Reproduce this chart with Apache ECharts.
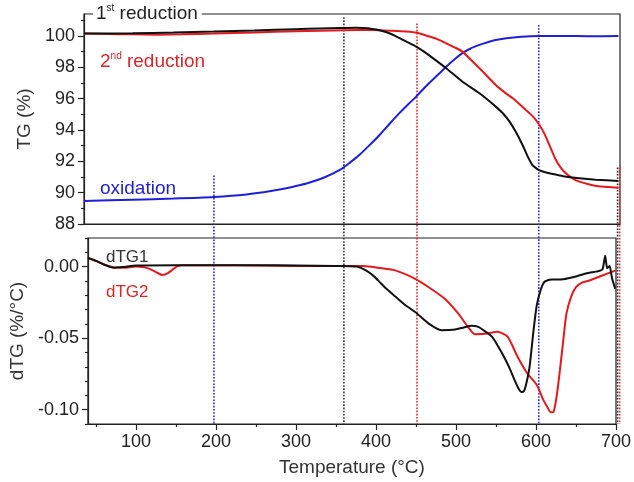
<!DOCTYPE html>
<html><head><meta charset="utf-8">
<script src="https://cdn.jsdelivr.net/npm/echarts@6/dist/echarts.min.js"></script>
<style>html,body{margin:0;padding:0;background:#fff}#c{width:634px;height:482px}</style>
</head><body><div id="c"></div>
<script>
// ---------- data ----------
const tg1Temps = [40,100,150,200,250,300,330,355,375,395,405,416,426,437,449,460,470,486,506,527,547,556,564,572,580,586,592,597,601,608,617,630,650,670,698];
const tg1Values = [100.15,100.17,100.22,100.28,100.35,100.43,100.48,100.5,100.52,100.45,100.35,100.17,99.93,99.64,99.32,98.95,98.57,97.94,97.08,96.34,95.49,95.05,94.53,93.85,93.04,92.35,91.77,91.55,91.42,91.3,91.19,91.05,90.92,90.83,90.75];

const tg2Temps = [40,70,100,130,160,200,250,300,330,360,395,420,437,450,461,475,486,496,506,516,527,537,547,558,568,584,593,601,607,613,620,627,634,642,650,660,671,685,698];
const tg2Values = [100.15,100.12,100.1,100.08,100.1,100.15,100.22,100.3,100.33,100.36,100.38,100.33,100.28,100.2,100.03,99.8,99.53,99.28,99.0,98.5,97.94,97.4,96.87,96.4,96.02,95.28,94.85,94.3,93.75,93.05,92.2,91.6,91.2,90.9,90.7,90.55,90.43,90.36,90.32];

const oxTemps = [40,100,150,200,240,270,295,315,335,355,367,379,391,404,416,428,439,449,459,469,478,486,496,506,516,527,537,547,560,572,585,600,630,660,698];
const oxValues = [89.47,89.55,89.62,89.72,89.88,90.1,90.35,90.6,90.95,91.45,91.9,92.4,93.0,93.68,94.38,95.06,95.63,96.13,96.68,97.19,97.63,98.04,98.5,98.9,99.2,99.43,99.6,99.74,99.85,99.92,99.97,100.0,100.0,99.98,100.0];

const dtg1Temps = [40,50,60,72,85,100,150,200,250,300,350,376,388,398,405,412,425,437,449,466,482,499,510,519,528,537,545,553,560,567,573,578,582,585,588,592,597,601,606,610,614,620,634,650,665,675,683,686.5,689,692,695,699];
const dtg1Values = [0.006,0.004,0.0015,-0.0008,-0.0002,0.0007,0.001,0.001,0.001,0.0008,0.0005,0,-0.0028,-0.007,-0.011,-0.015,-0.0213,-0.027,-0.0317,-0.0398,-0.0444,-0.044,-0.0425,-0.0414,-0.0421,-0.0455,-0.049,-0.056,-0.063,-0.071,-0.079,-0.085,-0.0877,-0.087,-0.0815,-0.07,-0.0444,-0.027,-0.016,-0.011,-0.0097,-0.009,-0.0088,-0.0069,-0.0045,-0.0035,-0.0021,0.0076,-0.0012,0.0005,-0.008,-0.0155];

const dtg2Temps = [40,50,60,72,85,100,110,117,125,133,140,146,152,158,200,250,300,350,384,405,425,449,466,486,503,515,523.5,536,552,564.5,577,589,601,609,614,618.5,622,626,630,634,638,644,650,658,667,683,699];
const dtg2Values = [0.006,0.004,0.0015,-0.0005,-0.0008,0,-0.0005,-0.0016,-0.0038,-0.0058,-0.0045,-0.002,0.0003,0.001,0.001,0.0008,0.0005,0.0005,0.0004,-0.001,-0.0028,-0.0085,-0.0144,-0.0225,-0.0329,-0.0421,-0.0472,-0.047,-0.0456,-0.049,-0.063,-0.0745,-0.0826,-0.093,-0.098,-0.1018,-0.1015,-0.09,-0.072,-0.052,-0.033,-0.021,-0.0144,-0.011,-0.0097,-0.0062,-0.0028];

// vertical dotted marker lines: temperature, TG value where the line starts
const markerTemps = [200, 360, 450, 600, 697, 699.5];
const markerTops = [91.1, 101.2, 100.8, 100.7, 91.6, 91.6];
const markerColors = ['#2424d8', '#333333', '#e0282a', '#2424d8', '#333333', '#e0282a'];

// tick values
const xMajorTicks = [100,200,300,400,500,600,700];
const xMinorTicks = [50,150,250,350,450,550,650];
const tgMajorTicks = [88,90,92,94,96,98,100];
const tgMinorTicks = [89,91,93,95,97,99,101];
const dtgMajorTicks = [-0.1,-0.05,0];
const dtgMinorTicks = [-0.11,-0.09,-0.08,-0.07,-0.06,-0.04,-0.03,-0.02,-0.01,0.01,0.02];

// ---------- layout ----------
const FONT = "'Liberation Sans', Arial, sans-serif";
const L = 84, R = 14, TOP1 = 14, H1 = 210, TOP2 = 238, H2 = 186;
const X_MIN = 40, X_MAX = 700;
const TG_MIN = 88, TG_MAX = 101.4;
const DTG_MIN = -0.11, DTG_MAX = 0.02;
const OVER_MIN = TG_MAX - (TOP2 + H2 - TOP1) / H1 * (TG_MAX - TG_MIN);

const zip = (a, b) => a.map((v, i) => [v, b[i]]);
const AX = '#222';

function yAxisPair(grid, min, max, majors, minors, name, gap, fmt) {
  return [{
    gridIndex: grid, type: 'value', min: min, max: max, position: 'left',
    name: name, nameLocation: 'middle', nameGap: gap, nameRotate: 90,
    nameTextStyle: {fontSize: 19, color: '#333', fontFamily: FONT},
    axisLine: {show: true, lineStyle: {color: AX, width: 1.2}},
    axisTick: {show: true, length: 6, customValues: majors, lineStyle: {color: AX, width: 1.2}},
    axisLabel: {show: true, fontSize: 18, color: '#222', fontFamily: FONT, margin: 9, customValues: majors, formatter: fmt},
    splitLine: {show: false}
  }, {
    gridIndex: grid, type: 'value', min: min, max: max, position: 'left',
    axisLine: {show: false},
    axisTick: {show: true, length: 3, customValues: minors, lineStyle: {color: AX, width: 1.2}},
    axisLabel: {show: false},
    splitLine: {show: false}
  }];
}

const chart = echarts.init(document.getElementById('c'));

const markerSeries = markerTemps.map((t, i) => ({
  type: 'line', xAxisIndex: 4, yAxisIndex: 4, silent: true, z: 1,
  symbol: 'none', data: [[t, markerTops[i]], [t, OVER_MIN]],
  lineStyle: {color: markerColors[i], width: 1.6, type: [1.6, 1.6]}
}));

const curve = (temps, vals, color, xi, yi) => ({
  type: 'line', xAxisIndex: xi, yAxisIndex: yi, data: zip(temps, vals),
  showSymbol: false, symbol: 'none', smooth: 0.2, z: 3,
  lineStyle: {color: color, width: 2}
});

const RED = '#e3191e', BLUE = '#1f1fd6', BLACK = '#111111';
const richStyle = (color) => ({
  n: {fontSize: 19, color: color, fontFamily: FONT, fontWeight: 'normal', lineHeight: 21},
  s: {fontSize: 10, color: color, fontFamily: FONT, fontWeight: 'normal', verticalAlign: 'top', lineHeight: 21, padding: [0, 0, 9, 0]}
});

chart.setOption({
  animation: false,
  backgroundColor: '#fff',
  textStyle: {fontFamily: FONT},
  grid: [
    {left: L, right: R, top: TOP1, height: H1, show: true, borderColor: AX, borderWidth: 1.2, backgroundColor: 'transparent'},
    {left: L, right: R, top: TOP2, height: H2, show: true, borderColor: AX, borderWidth: 1.2, backgroundColor: 'transparent'},
    {left: L, right: R, top: TOP1, height: TOP2 + H2 - TOP1, show: false}
  ],
  title: [
    {text: '{n|1}{s|st}{n| reduction}', left: 93, top: 3, backgroundColor: '#fff', padding: [0, 4, 0, 3],
     textStyle: {fontWeight: 'normal', rich: richStyle('#222')}},
    {text: '{n|2}{s|nd}{n| reduction}', left: 95, top: 46,
     textStyle: {fontWeight: 'normal', rich: richStyle('#d8262b')}},
    {text: 'oxidation', left: 95, top: 174, textStyle: {fontSize: 19, color: '#1f1fc8', fontFamily: FONT, fontWeight: 'normal'}},
    {text: 'dTG1', left: 101, top: 244, textStyle: {fontSize: 17, color: '#333', fontFamily: FONT, fontWeight: 'normal'}},
    {text: 'dTG2', left: 101, top: 279, textStyle: {fontSize: 17, color: '#d8262b', fontFamily: FONT, fontWeight: 'normal'}}
  ],
  xAxis: [
    {gridIndex: 0, type: 'value', min: X_MIN, max: X_MAX,
     axisLine: {show: true, onZero: false, lineStyle: {color: AX, width: 1.2}},
     axisTick: {show: false}, axisLabel: {show: false}, splitLine: {show: false}},
    {gridIndex: 1, type: 'value', min: X_MIN, max: X_MAX,
     name: 'Temperature (°C)', nameLocation: 'middle', nameGap: 34,
     nameTextStyle: {fontSize: 19, color: '#333', fontFamily: FONT},
     axisLine: {show: true, onZero: false, lineStyle: {color: AX, width: 1.2}},
     axisTick: {show: true, length: 6, customValues: xMajorTicks, lineStyle: {color: AX, width: 1.2}},
     axisLabel: {show: true, fontSize: 18, color: '#222', fontFamily: FONT, margin: 9, customValues: xMajorTicks},
     splitLine: {show: false}},
    {gridIndex: 1, type: 'value', min: X_MIN, max: X_MAX, position: 'bottom',
     axisLine: {show: false, onZero: false},
     axisTick: {show: true, length: 3, customValues: xMinorTicks, lineStyle: {color: AX, width: 1.2}},
     axisLabel: {show: false}, splitLine: {show: false}},
    {gridIndex: 0, type: 'value', min: X_MIN, max: X_MAX, show: false},
    {gridIndex: 2, type: 'value', min: X_MIN, max: X_MAX, show: false}
  ],
  yAxis: [
    ...yAxisPair(0, TG_MIN, TG_MAX, tgMajorTicks, tgMinorTicks, 'TG (%)', 48, v => String(Math.round(v))),
    ...yAxisPair(1, DTG_MIN, DTG_MAX, dtgMajorTicks, dtgMinorTicks, 'dTG (%/°C)', 58, v => v.toFixed(2)),
    {gridIndex: 2, type: 'value', min: OVER_MIN, max: TG_MAX, show: false}
  ],
  series: [
    ...markerSeries,
    curve(oxTemps, oxValues, BLUE, 0, 0),
    curve(tg2Temps, tg2Values, RED, 0, 0),
    curve(tg1Temps, tg1Values, BLACK, 0, 0),
    curve(dtg2Temps, dtg2Values, RED, 1, 2),
    curve(dtg1Temps, dtg1Values, BLACK, 1, 2)
  ]
});
</script>
</body></html>
